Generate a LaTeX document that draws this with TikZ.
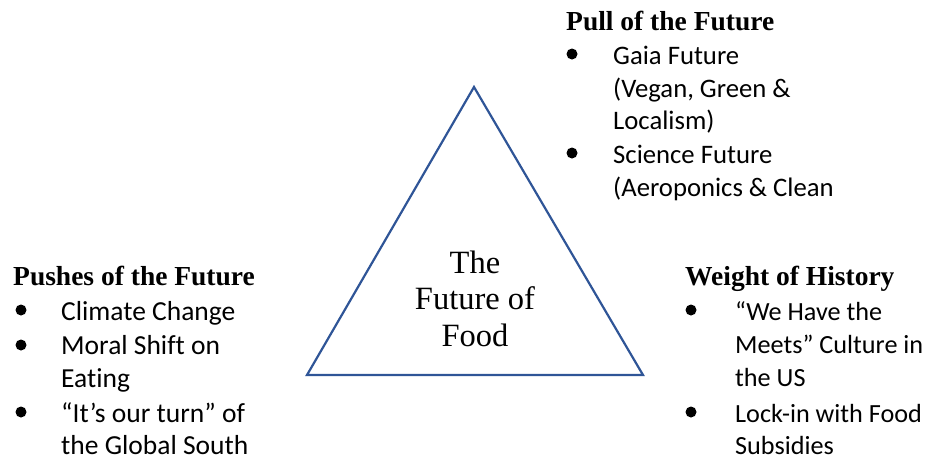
\documentclass[tikz,border=0pt]{standalone}
\usepackage{fontspec}
\setmainfont{Liberation Serif}
\newfontfamily\bodyfont[Ligatures=NoCommon]{Carlito}
\definecolor{triblue}{RGB}{47,85,151}
\tikzset{
  head/.style={anchor=base west, inner sep=0, font=\fontsize{27.5}{33}\selectfont\bfseries},
  body/.style={anchor=base west, inner sep=0, font=\bodyfont\fontsize{27.5}{33}\selectfont},
  bodytop/.style={body, font=\bodyfont\fontsize{26.7}{33}\selectfont},
  bodyright/.style={body, font=\bodyfont\fontsize{26.2}{33}\selectfont},
  dot/.style={circle, fill=black, inner sep=0, minimum size=11pt},
  center/.style={anchor=base, inner sep=0, font=\fontsize{32.5}{36.5}\selectfont},
}
\begin{document}
\begin{tikzpicture}[x=1pt,y=-1pt]
\useasboundingbox (0,0) rectangle (927,461);
% triangle
\coordinate (apex) at (474,87);
\coordinate (bl) at (307,375);
\coordinate (br) at (643,375);
\draw[triblue, line width=2.2pt, line join=miter] (apex) -- (br) -- (bl) -- cycle;
\node[center] (c1) at (475,273) {The};
\node[center] (c2) at (475,309.5) {Future of};
\node[center] (c3) at (475,346) {Food};
% top block
\node[head] (th) at (566,30) {Pull of the Future};
\node[dot] (tb1) at (572,54) {};
\node[bodytop] (t1) at (613,64) {Gaia Future};
\node[bodytop] (t2) at (613,97) {(Vegan, Green \&};
\node[bodytop] (t3) at (613,129) {Localism)};
\node[dot] (tb2) at (572,153) {};
\node[bodytop] (t4) at (613,163) {Science Future};
\node[bodytop] (t5) at (613,196) {(Aeroponics \& Clean};
% left block
\node[head] (lh) at (13,285) {Pushes of the Future};
\node[dot] (lb1) at (21,310) {};
\node[body] (l1) at (61,320) {Climate Change};
\node[dot] (lb2) at (21,345) {};
\node[body] (l2) at (61,354) {Moral Shift on};
\node[body] (l3) at (61,387) {Eating};
\node[dot] (lb3) at (21,412) {};
\node[body] (l4) at (61,422) {“It’s our turn” of};
\node[body] (l5) at (61,454) {the Global South};
% right block
\node[head] (rh) at (685,285) {Weight of History};
\node[dot] (rb1) at (691,310) {};
\node[bodyright] (r1) at (735,320) {“We Have the};
\node[bodyright] (r2) at (735,353) {Meets” Culture in};
\node[bodyright] (r3) at (735,386) {the US};
\node[dot] (rb2) at (691,412) {};
\node[bodyright] (r4) at (735,422) {Lock-in with Food};
\node[bodyright] (r5) at (735,454) {Subsidies};
\end{tikzpicture}
\end{document}
